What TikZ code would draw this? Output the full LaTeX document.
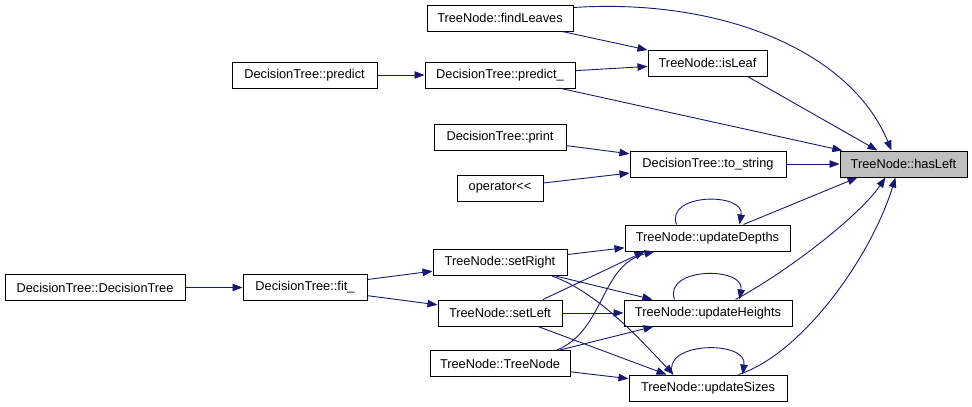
\documentclass[tikz,border=0pt]{standalone}
\usepackage{fontspec}
\setmainfont{Liberation Sans}
\usetikzlibrary{arrows.meta,calc}
\definecolor{edgeblue}{RGB}{25,25,112}
\definecolor{hlgray}{RGB}{191,191,191}
\tikzset{
  fn/.style={draw=black,line width=1pt,fill=white,inner sep=0pt,minimum height=26pt,
    font=\fontsize{12.8}{15}\selectfont,anchor=center},
  call/.style={draw=edgeblue,line width=0.9pt,-{Triangle[length=10pt,width=7.5pt]},fill=none},
}
\begin{document}
\begin{tikzpicture}[x=1pt,y=-1pt]
\useasboundingbox (0,0) rectangle (972,407);
\fill[white] (0,0) rectangle (972,407);
% nodes
\node[fn,minimum width=146pt] (findLeaves) at (500,18) {TreeNode::findLeaves};
\node[fn,minimum width=119pt] (isLeaf) at (707.5,63) {TreeNode::isLeaf};
\node[fn,minimum width=145pt] (predict) at (304.5,75) {DecisionTree::predict};
\node[fn,minimum width=150pt] (predictU) at (500,75) {DecisionTree::predict\_};
\node[fn,minimum width=127pt,fill=hlgray] (hasLeft) at (903.5,164) {TreeNode::hasLeft};
\node[fn,minimum width=132pt] (print) at (500,137) {DecisionTree::print};
\node[fn,minimum width=156pt] (toString) at (708,164) {DecisionTree::to\_string};
\node[fn,minimum width=86pt] (oper) at (500,188) {operator<\kern0pt<};
\node[fn,minimum width=165pt] (updDepths) at (707.5,238) {TreeNode::updateDepths};
\node[fn,minimum width=134pt] (setRight) at (500,262.5) {TreeNode::setRight};
\node[fn,minimum width=124pt] (setLeft) at (500,313) {TreeNode::setLeft};
\node[fn,minimum width=168pt] (updHeights) at (708,313) {TreeNode::updateHeights};
\node[fn,minimum width=140pt] (treeNode) at (500,363.5) {TreeNode::TreeNode};
\node[fn,minimum width=158pt] (updSizes) at (708,388) {TreeNode::updateSizes};
\node[fn,minimum width=180pt] (dtree) at (95,287.5) {DecisionTree::DecisionTree};
\node[fn,minimum width=124pt] (fit) at (305,287.5) {DecisionTree::fit\_};
% edges
\draw[call] ($(findLeaves.north east)+(0,3)$) .. controls (720,-2) and (850,50) .. ($(hasLeft.north)+(-12,0)$);
\draw[call] (findLeaves) -- (isLeaf);
\draw[call] (predict) -- (predictU);
\draw[call] (predictU) -- (isLeaf);
\draw[call] (predictU) -- (hasLeft);
\draw[call] ($(isLeaf.south east)+(-20,0)$) -- ($(hasLeft.north)+(-26,0)$);
\draw[call] (print) -- (toString);
\draw[call] (oper) -- (toString);
\draw[call] (toString) -- (hasLeft);
% updateDepths
\draw[call] ($(updDepths.north east)+(-47,0)$) -- ($(hasLeft.south west)+(18,0)$);
\draw[call] ($(updDepths.north west)+(52,0)$) .. controls (665,193) and (745,192) .. ($(updDepths.north west)+(115,0)$);
% updateHeights
\draw[call] ($(updHeights.north east)+(-57,0)$) .. controls (790,270) and (860,215) .. ($(hasLeft.south)+(-18,0)$);
\draw[call] ($(updHeights.north west)+(51,0)$) .. controls (663,267) and (745,266) .. ($(updHeights.north west)+(116,0)$);
% updateSizes
\draw[call] ($(updSizes.north east)+(-49,0)$) .. controls (800,355) and (870,260) .. ($(hasLeft.south)+(-8,0)$);
\draw[call] ($(updSizes.north west)+(44,0)$) .. controls (661,341) and (748,340) .. ($(updSizes.north west)+(114,0)$);
% fit
\draw[call] (dtree) -- (fit);
\draw[call] (fit) -- (setRight);
\draw[call] (fit) -- (setLeft);
% setRight
\draw[call] (setRight) -- (updDepths);
\draw[call] (setRight) -- (updHeights);
\draw[call] ($(setRight.south)+(52,0)$) .. controls (600,293) and (645,345) .. ($(updSizes.north west)+(45,0)$);
% setLeft
\draw[call] ($(setLeft.north)+(43,0)$) -- ($(updDepths.south west)+(20,0)$);
\draw[call] (setLeft) -- (updHeights);
\draw[call] ($(setLeft.south)+(38,0)$) -- ($(updSizes.north west)+(38,0)$);
% TreeNode
\draw[call] ($(treeNode.north)+(57,0)$) .. controls (605,330) and (600,265) .. ($(updDepths.south west)+(30,0)$);
\draw[call] ($(treeNode.north)+(60,0)$) -- ($(updHeights.south west)+(30,0)$);
\draw[call] (treeNode) -- (updSizes);
\end{tikzpicture}
\end{document}
